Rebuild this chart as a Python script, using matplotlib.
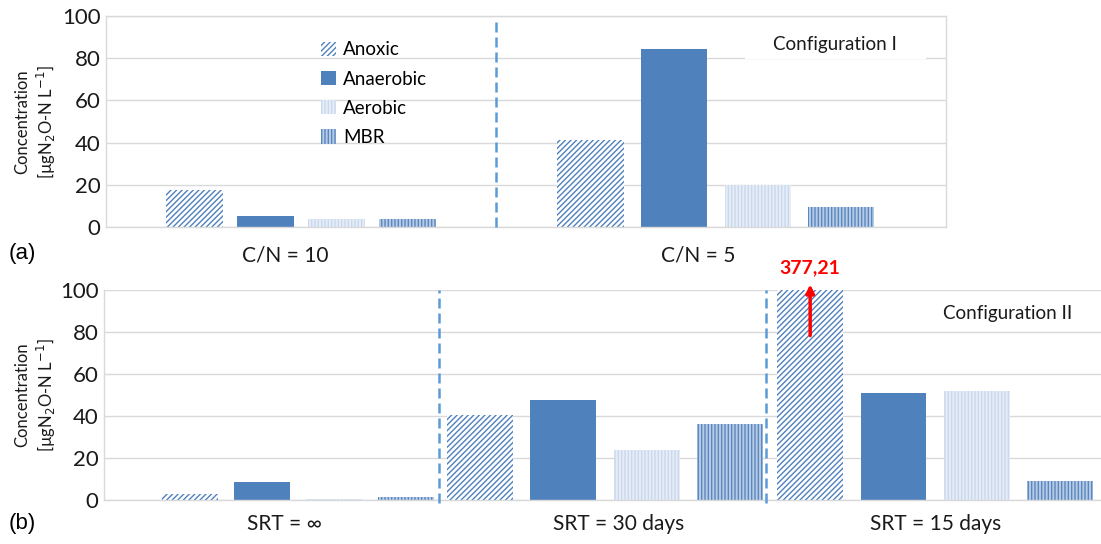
import matplotlib
matplotlib.use('Agg')
import numpy as np
import matplotlib.pyplot as plt
from matplotlib.patches import Rectangle, Patch

plt.rcParams['font.family'] = ['Lato', 'DejaVu Sans']
plt.rcParams['hatch.linewidth'] = 1.0

reactors = ['Anoxic', 'Anaerobic', 'Aerobic', 'MBR']
cn_labels = ['C/N = 10', 'C/N = 5']
cn_10 = [17.5, 5.2, 3.7, 3.6]
cn_5 = [41.0, 84.3, 19.9, 9.5]
srt_labels = ['SRT = ∞', 'SRT = 30 days', 'SRT = 15 days']
srt_inf = [2.9, 8.6, 0.7, 1.2]
srt_30 = [40.4, 47.5, 23.9, 36.3]
srt_15 = [377.21, 50.8, 51.8, 9.0]
yticks = [0, 20, 40, 60, 80, 100]

styles = {
    'Anoxic': dict(facecolor='white', edgecolor='#4F81BD', hatch='//////'),
    'Anaerobic': dict(facecolor='#4F81BD', edgecolor='#4F81BD'),
    'Aerobic': dict(facecolor='#E6EDF7', edgecolor='#C9D8EC', hatch='|||||'),
    'MBR': dict(facecolor='#B7CBE5', edgecolor='#5B87C0', hatch='|||||'),
}
GRID = '#D9D9D9'
DASH = '#5B9BD5'
TXT = '#1a1a1a'
W, H = 1101, 544

fig = plt.figure(figsize=(11.01, 5.44), dpi=100)


def group_axes(left, right, top, bottom, values, xlim, width, label, label_x, label_y):
    ax = fig.add_axes([left / W, 1 - bottom / H, (right - left) / W, (bottom - top) / H])
    for i, r in enumerate(reactors):
        ax.bar(i, values[i], width, linewidth=0, label=r, **styles[r])
    ax.set_xlim(xlim)
    ax.set_ylim(0, 100)
    ax.set_yticks(yticks)
    ax.yaxis.grid(True, color=GRID, linewidth=1)
    ax.set_axisbelow(True)
    ax.set_xticks([])
    ax.tick_params(axis='y', length=0, labelleft=False)
    for s in ax.spines.values():
        s.set_color(GRID)
        s.set_linewidth(1)
    ax.text(label_x, label_y, label, transform=ax.transAxes, ha='center', va='center',
            fontsize=15, color=TXT)
    return ax


def left_ticks(ax):
    ax.tick_params(axis='y', labelleft=True, labelsize=16, pad=4, labelcolor=TXT)


# panel (a)
a1 = group_axes(106, 496, 16, 227, cn_10, (-1.25, 4.25), 0.8, cn_labels[0], 0.46, -0.137)
a2 = group_axes(496, 946, 16, 227, cn_5, (-1.13, 4.25), 0.79, cn_labels[1], 0.45, -0.137)
a1.spines['right'].set_visible(False)
a2.spines['left'].set_visible(False)
left_ticks(a1)
a2.axvline(a2.get_xlim()[0], ymin=0, ymax=0.97, color=DASH, linewidth=1.8,
           linestyle=(0, (4, 2)), clip_on=False, zorder=5)
a2.add_patch(Rectangle((0.553, 0.796), 0.403, 0.176, transform=a2.transAxes,
                       facecolor='white', edgecolor='none', zorder=3))
a2.text(0.753, 0.863, 'Configuration I', transform=a2.transAxes, ha='center', va='center',
        fontsize=13.5, color=TXT, zorder=4)
handles = [Patch(label=r, linewidth=0, **styles[r]) for r in reactors]
a1.legend(handles=handles, loc='upper left', bbox_to_anchor=(312 / W, 1 - 32 / H),
          bbox_transform=fig.transFigure, frameon=False, fontsize=13.5, borderpad=0,
          labelspacing=0.65, handlelength=0.8, handleheight=0.8, handletextpad=0.35)

# panel (b)
b1 = group_axes(104, 439, 290, 500, srt_inf, (-1.2, 3.46), 0.78, srt_labels[0], 0.54, -0.114)
b2 = group_axes(439, 766, 290, 500, srt_30, (-0.49, 3.43), 0.79, srt_labels[1], 0.55, -0.114)
b3 = group_axes(766, 1101, 290, 500, srt_15, (-0.53, 3.49), 0.79, srt_labels[2], 0.505, -0.114)
for ax in (b1, b2, b3):
    ax.spines['top'].set_visible(False)
    ax.spines['right'].set_visible(False)
for ax in (b2, b3):
    ax.spines['left'].set_visible(False)
    ax.axvline(ax.get_xlim()[0], ymin=-0.015, ymax=1.0, color=DASH, linewidth=1.8,
               linestyle=(0, (4, 2)), clip_on=False, zorder=5)
left_ticks(b1)
b3.annotate('', xy=(0, 104), xytext=(0, 77),
            arrowprops=dict(arrowstyle='-|>', color='#FF0000', lw=2.5, mutation_scale=12),
            annotation_clip=False, zorder=6)
b3.text(0, 110.5, f'{srt_15[0]:.2f}'.replace('.', ','), ha='center', va='center',
        fontsize=14, fontweight='bold', color='#FF0000', clip_on=False)
b3.text(0.722, 0.89, 'Configuration II', transform=b3.transAxes, ha='center', va='center',
        fontsize=13.5, color=TXT)

# shared texts
ylab = 'Concentration\n[µgN$_2$O-N L$^{-1}$]'
for yc in (122, 395):
    fig.text(36 / W, 1 - yc / H, ylab, rotation=90, ha='center', va='center',
             fontsize=12, linespacing=1.25, color=TXT)
fig.text(22 / W, 1 - 254 / H, '(a)', ha='center', va='center', fontsize=16,
         family='Liberation Sans')
fig.text(22 / W, 1 - 523 / H, '(b)', ha='center', va='center', fontsize=16,
         family='Liberation Sans')

fig.savefig('out.png')
